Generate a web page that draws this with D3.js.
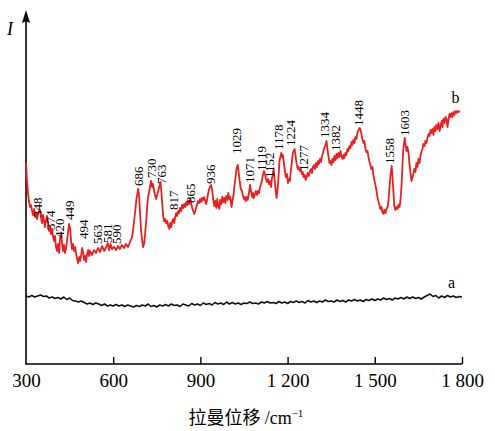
<!DOCTYPE html>
<html>
<head>
<meta charset="utf-8">
<script src="https://cdn.jsdelivr.net/npm/d3@7"></script>
<style>
  html, body { margin: 0; padding: 0; background: #fff; }
  svg { display: block; }
  text { font-family: "Liberation Serif", "Times New Roman", serif; fill: #000; }
</style>
</head>
<body>
<svg id="chart" width="495" height="431"></svg>
<script>
// Raman shift (cm^-1) and intensity (a.u.) of spectrum b
const shiftB = [300,303,307,310,314,317,321,324,328,331,334,338,341,345,348,352,355,359,362,365,369,372,376,379,383,386,390,393,397,400,403,407,410,414,417,421,424,428,431,434,438,441,445,448,452,455,458,462,465,469,472,476,479,483,486,490,493,497,500,503,507,510,514,517,520,527,534,541,548,555,562,569,576,581,586,591,596,603,610,617,623,630,637,644,651,658,665,670,675,680,686,689,693,696,700,703,707,710,714,717,720,724,727,730,734,737,741,744,748,751,755,758,763,768,772,775,779,782,786,789,793,796,800,803,806,810,813,817,820,824,827,830,834,837,841,844,848,851,855,858,862,865,868,872,875,879,882,886,889,892,896,899,903,906,910,913,917,920,924,927,930,934,937,941,944,948,951,955,958,961,965,968,972,975,979,982,986,989,993,996,1000,1003,1007,1010,1014,1017,1021,1024,1027,1029,1032,1036,1039,1043,1046,1050,1053,1056,1060,1063,1067,1071,1074,1078,1081,1084,1088,1091,1095,1098,1102,1105,1108,1112,1115,1119,1122,1126,1129,1133,1136,1139,1143,1146,1152,1156,1159,1162,1165,1169,1172,1178,1181,1184,1187,1191,1194,1198,1201,1205,1208,1211,1215,1218,1224,1228,1231,1235,1238,1242,1245,1249,1252,1255,1259,1262,1266,1269,1273,1277,1281,1284,1287,1291,1294,1298,1301,1305,1308,1311,1315,1318,1322,1325,1329,1334,1337,1341,1344,1347,1351,1354,1358,1361,1365,1368,1371,1375,1378,1382,1385,1389,1392,1395,1399,1402,1406,1409,1413,1416,1420,1423,1426,1430,1433,1437,1440,1444,1448,1450,1454,1457,1461,1464,1468,1471,1475,1478,1481,1485,1488,1492,1495,1499,1502,1506,1509,1512,1516,1519,1523,1526,1530,1533,1537,1540,1544,1547,1550,1554,1558,1560,1564,1567,1571,1574,1578,1581,1585,1588,1592,1595,1598,1603,1605,1609,1612,1616,1619,1623,1626,1630,1633,1636,1640,1643,1647,1650,1654,1657,1661,1664,1667,1671,1674,1678,1681,1685,1688,1692,1695,1699,1702,1705,1709,1712,1716,1719,1723,1726,1730,1733,1736,1740,1743,1747,1750,1754,1757,1760,1764,1767,1771,1774,1778,1781,1785,1788,1793];
const intensityB = [201,185,171,163,157,159,153,149,155,147,151,145,150,153,154,146,141,149,143,137,144,148,141,133,137,130,135,127,123,128,117,113,120,111,125,131,121,113,119,111,116,123,133,140,135,123,115,120,113,117,111,105,101,107,103,109,116,111,104,108,102,110,114,108,113,109,114,111,116,112,118,113,117,121,114,120,115,117,114,118,115,119,116,120,117,122,127,138,151,165,175,168,148,133,123,117,121,131,145,158,167,173,178,183,177,180,173,169,165,169,173,177,182,163,148,143,145,141,143,138,135,141,137,143,145,141,147,151,148,153,151,156,153,159,156,160,157,162,159,163,160,165,161,156,153,150,153,157,160,163,161,165,162,166,164,167,163,160,166,171,175,178,179,173,165,158,163,156,165,159,155,164,160,167,162,166,161,168,164,171,165,167,157,163,169,178,187,195,198,199,191,181,175,173,169,165,167,163,167,164,171,179,173,167,171,166,170,173,169,173,171,177,179,184,189,193,190,185,182,185,180,183,177,185,195,183,173,166,173,188,203,211,207,209,201,193,187,190,181,185,183,193,203,211,215,207,200,195,197,193,195,190,192,187,189,184,187,191,188,193,195,191,197,199,195,201,197,203,200,205,202,208,211,215,218,223,215,207,201,203,199,205,202,208,204,210,206,211,207,213,208,205,209,206,211,209,215,213,218,216,222,219,224,221,227,225,231,234,236,235,230,225,221,223,215,212,213,207,203,199,195,197,189,183,179,173,167,163,159,155,157,152,150,154,151,155,157,163,175,189,198,191,173,158,154,157,155,159,157,163,178,198,215,226,221,213,217,211,201,191,183,187,191,195,192,201,197,205,201,208,213,215,220,218,223,221,226,230,228,234,231,235,229,237,233,239,235,241,233,238,243,237,245,241,247,245,237,245,250,247,251,247,252,249,253,251,253,252,253];

// Raman shift (cm^-1) and intensity (a.u.) of spectrum a
const shiftA = [300,310,320,330,340,350,360,370,380,390,400,410,420,430,440,450,460,470,480,490,500,510,520,530,540,550,560,570,580,590,600,610,620,630,640,650,660,670,680,690,700,710,720,730,740,750,760,770,780,790,800,810,820,830,840,850,860,870,880,890,900,910,920,930,940,950,960,970,980,990,1000,1010,1020,1030,1040,1050,1060,1070,1080,1090,1100,1110,1120,1130,1140,1150,1160,1170,1180,1190,1200,1210,1220,1230,1240,1250,1260,1270,1280,1290,1300,1310,1320,1330,1340,1350,1360,1370,1380,1390,1400,1410,1420,1430,1440,1450,1460,1470,1480,1490,1500,1510,1520,1530,1540,1550,1560,1570,1580,1590,1600,1610,1620,1630,1640,1650,1660,1670,1680,1690,1700,1710,1720,1730,1740,1750,1760,1770,1780,1790,1800];
const intensityA = [68,67,68.5,67,68,69,67.5,68,66,67,65.5,66.5,65,67,64.5,66,63.5,63,62,63,61.5,60,61,59.5,61,60,58.5,60,58,59,58,59.5,58,59,57.5,59,58,57,58.5,57.5,59,58,60,57.5,58.5,57,59,58,59.5,58,60,58.5,59,57.5,60,59,58,60.5,59,60,58.5,61,59.5,60.5,59,61.5,60,61,59.5,62,60,61.5,60,61,59.5,61,60.5,62,60.5,61,60,62,61,62.5,61,61.5,60.5,62.5,61,62,60.5,62.5,61.5,63,61.5,62.5,61,63.5,62,63,61.5,63,62,64,62.5,63,62,64,62.5,63.5,62,64,63,64.5,63,64,62.5,64.5,63.5,65,63.5,65,64,66,64.5,65.5,64,66,65,66.5,65,67,65.5,67,65.5,66.5,65,67,68.5,70,67.5,68.5,66,68,66.5,68.5,67,68,66.5,67.5,67];

// Peak assignments marked on spectrum b
const peakLabels = [348,374,420,449,494,563,581,590,686,730,763,817,865,936,1029,1071,1119,1152,1178,1224,1277,1334,1382,1448,1558,1603];
// Label nudges [dx, dy] in px relative to the peak top, keeping crowded labels apart
const labelNudge = [[-2,7],[3,14],[-1,5],[0,-4],[1,-9],[-5,-2],[0,0],[6,0],[0,-3],[1,-3],[1,2],[-3,-3],[0,4],[0,-1],[-1,-11],[-1,-2],[-3,0],[-4,9],[-3,-3],[-4,-3],[-6,0],[-2,-3],[-5,0],[-1,-2],[-2,-2],[0,-2]];

const xTicks = [300,600,900,1200,1500,1800];
const xTickLabels = ["300","600","900","1 200","1 500","1 800"];

const svg = d3.select("#chart");
const x0 = 26, x1 = 462, yBase = 364, yTop = 10;

const x = d3.scaleLinear().domain([300, 1800]).range([x0, x1]);
const y = d3.scaleLinear().domain([0, 354]).range([yBase, yTop]);

// x axis with inward ticks
const xAxis = d3.axisBottom(x).tickValues(xTicks).tickSize(-7).tickFormat((d, i) => xTickLabels[i]).tickPadding(0);
const gx = svg.append("g").attr("transform", `translate(0,${yBase})`).call(xAxis);
gx.select(".domain").attr("stroke", "#000").attr("stroke-width", 1.6).attr("d", `M${x0},0H${x1}`);
gx.selectAll(".tick line").attr("stroke", "#000").attr("stroke-width", 1.4)
  .filter(d => d === 300).remove();
gx.selectAll(".tick text")
  .attr("y", 23)
  .attr("dy", 0)
  .style("font-family", '"Liberation Serif", "Times New Roman", serif')
  .style("font-size", "19px")
  .attr("fill", "#000");

// y axis with arrow head
svg.append("line").attr("x1", x0).attr("x2", x0).attr("y1", yBase + 0.8).attr("y2", yTop + 8)
  .attr("stroke", "#000").attr("stroke-width", 1.6);
svg.append("path").attr("d", `M${x0},${yTop} L${x0 - 4},${yTop + 13} Q${x0},${yTop + 10} ${x0 + 4},${yTop + 13} Z`)
  .attr("fill", "#000");
svg.append("text").attr("x", 7).attr("y", 35)
  .style("font-style", "italic").style("font-size", "18px").text("I");

// axis title
const title = svg.append("text").attr("x", 246).attr("y", 424).attr("text-anchor", "middle")
  .style("font-size", "18px");
title.append("tspan").style("font-family", '"Noto Sans CJK SC", "Noto Sans CJK JP", sans-serif').style("font-size", "18px").text("拉曼位移 ");
title.append("tspan").text("/cm");
title.append("tspan").attr("dy", -7).style("font-size", "11px").text("−1");

// spectra
const line = d3.line().x(d => x(d[0])).y(d => y(d[1]));
const dataA = shiftA.map((s, i) => [s, intensityA[i]]);
const dataB = shiftB.map((s, i) => [s, intensityB[i]]);

svg.append("path").datum(dataA).attr("d", line).attr("fill", "none")
  .attr("stroke", "#111").attr("stroke-width", 1.6).attr("stroke-linejoin", "round");
svg.append("path").datum(dataB).attr("d", line).attr("fill", "none")
  .attr("stroke", "#ec1f1f").attr("stroke-width", 1.8).attr("stroke-linejoin", "round");

svg.append("text").attr("x", x(1752)).attr("y", y(76)).style("font-size", "16px").text("a");
svg.append("text").attr("x", x(1764)).attr("y", y(261)).style("font-size", "16px").text("b");

// peak labels, rotated, sitting on top of each peak
peakLabels.forEach((p, i) => {
  const near = dataB.filter(d => Math.abs(d[0] - p) <= 3);
  const top = d3.max(near, d => d[1]);
  const [dx, dy] = labelNudge[i];
  const px = x(p) + dx + 4.5;
  const py = y(top) + dy;
  svg.append("text")
    .attr("transform", `translate(${px},${py}) rotate(-90)`)
    .style("font-size", "13px")
    .text(p);
});
</script>
</body>
</html>
